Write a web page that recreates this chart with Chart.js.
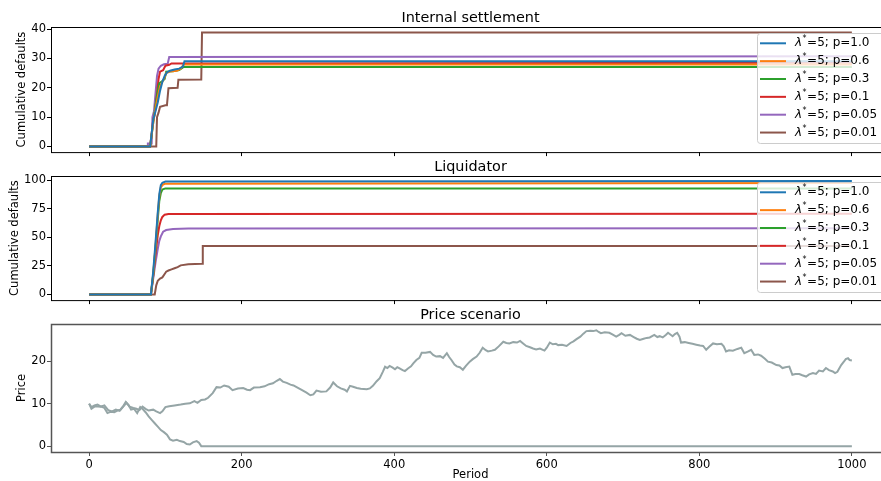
<!DOCTYPE html>
<html>
<head>
<meta charset="utf-8">
<script src="https://cdn.jsdelivr.net/npm/chart.js@4.4.1/dist/chart.umd.min.js"></script>
<style>
  html, body { margin: 0; padding: 0; background: #fff; overflow: hidden; width: 881px; height: 481px; }
  canvas { position: absolute; left: 0; }
</style>
</head>
<body>
<canvas id="settle" width="900" height="160" style="top:0px"></canvas>
<canvas id="liquid" width="900" height="148" style="top:160px"></canvas>
<canvas id="price" width="900" height="173" style="top:308px"></canvas>
<script>
const periodTicks = [0, 200, 400, 600, 800, 1000]
const settleTicks = [0, 10, 20, 30, 40]
const liquidTicks = [0, 25, 50, 75, 100]
const priceTicks = [0, 10, 20]

const legendLabels = ['=5; p=1.0', '=5; p=0.6', '=5; p=0.3', '=5; p=0.1', '=5; p=0.05', '=5; p=0.01']
const lineColors = ['#1f77b4', '#ff7f0e', '#2ca02c', '#d62728', '#9467bd', '#8c564b']
const priceColor = '#95a5a6'

// Internal settlement, [period, cumulative defaults]
const settleP10 = [[0, 0], [80, 0], [84, 9], [87, 12], [90, 15], [93, 19], [96, 22], [99, 24], [102, 25.2], [106, 25.8], [112, 26.2], [118, 26.5], [123, 27.2], [125, 29], [1000, 29]]
const settleP06 = [[0, 0], [80, 0], [84, 8], [87, 13], [90, 17], [93, 20.5], [96, 22], [99, 23.5], [101, 25], [106, 25.5], [115, 25.8], [120, 26.5], [124, 27.9], [1000, 27.9]]
const settleP03 = [[0, 0], [80, 0], [84, 8], [87, 14], [90, 19], [92, 21.5], [96, 22.3], [99, 23], [101, 25.5], [110, 25.6], [118, 26], [124, 27.1], [1000, 27.1]]
const settleP01 = [[0, 0], [80, 0], [84, 9], [86, 11], [89, 18], [91, 23], [93, 25.5], [97, 26], [100, 27.5], [105, 27.8], [108, 28.3], [1000, 28.5]]
const settleP005 = [[0, 0], [76, 0], [77, 1], [82, 1], [83, 10], [85, 12], [87, 18], [89, 24], [91, 26.5], [94, 27.5], [98, 28], [103, 28.2], [105, 30.5], [1000, 30.7]]
const settleP001 = [[0, 0], [88, 0], [89, 10], [91, 11.5], [93, 13.5], [100, 14], [102, 14], [104, 19.8], [116, 20], [117, 22.7], [147, 22.8], [148, 38.8], [1000, 38.8]]

// Liquidator, [period, cumulative defaults]
const liquidP10 = [[0, 0], [81, 0], [84, 20], [87, 45], [90, 72], [92, 88], [94, 96], [96, 98], [100, 99], [1000, 99.5]]
const liquidP06 = [[0, 0], [81, 0], [84, 18], [87, 42], [90, 70], [92, 86], [94, 94], [97, 96.5], [100, 97.2], [1000, 97.8]]
const liquidP03 = [[0, 0], [81, 0], [84, 17], [87, 40], [90, 66], [92, 82], [94, 89], [96, 92], [100, 93], [1000, 93]]
const liquidP01 = [[0, 0], [81, 0], [84, 16], [87, 35], [90, 52], [92, 60], [94, 65], [96, 68], [99, 70], [104, 70.6], [1000, 70.8]]
const liquidP005 = [[0, 0], [81, 0], [84, 14], [87, 28], [90, 40], [92, 47], [94, 51], [97, 55], [101, 56.5], [110, 57.5], [130, 57.8], [1000, 58]]
const liquidP001 = [[0, 0], [86, 0], [88, 8], [90, 12], [93, 14], [96, 15], [99, 18], [101, 20], [104, 21], [108, 22], [112, 23], [116, 24], [120, 25.5], [130, 26.5], [148, 27], [149, 42.4], [1000, 42.4]]

// Price scenario, [period, price]
const priceSurvivor = [
  [0, 10], [3, 8.8], [8, 9.4], [15, 9.3], [20, 9.6], [25, 8.5], [30, 8.2], [35, 8.6], [40, 8.3], [45, 9.4],
  [49, 10.2], [53, 9.3], [58, 9.0], [62, 8.8], [66, 8.5], [70, 9.3], [74, 8.8], [78, 8.4], [84, 8.6], [88, 8.2],
  [93, 7.8], [96, 8.2], [100, 9.2], [105, 9.4], [112, 9.6], [120, 9.8], [126, 10.0], [132, 10.1], [138, 10.6], [142, 10.2],
  [147, 10.9], [152, 11.0], [156, 11.4], [162, 12.5], [167, 13.9], [172, 13.8], [177, 14.3], [183, 14.0], [188, 13.2], [195, 13.6],
  [202, 13.7], [207, 13.3], [211, 13.2], [216, 13.8], [224, 13.9], [230, 14.1], [236, 14.6], [241, 14.8], [246, 15.4], [250, 15.8],
  [254, 15.2], [259, 14.9], [264, 14.5], [268, 14.3], [272, 13.9], [278, 13.3], [285, 12.6], [290, 12.0], [294, 12.2], [298, 13.1],
  [304, 12.8], [311, 12.9], [316, 13.8], [320, 15.0], [325, 14.1], [330, 13.6], [335, 13.3], [338, 12.9], [342, 14.2], [346, 14.0],
  [351, 13.7], [356, 13.5], [364, 13.4], [368, 13.6], [372, 14.2], [377, 15.3], [381, 16.0], [385, 17.5], [388, 18.7], [391, 18.4],
  [394, 18.9], [398, 18.5], [401, 18.1], [404, 18.6], [407, 18.3], [411, 17.9], [414, 17.7], [418, 18.3], [422, 18.8], [425, 19.5],
  [429, 20.3], [433, 20.8], [436, 22.0], [441, 22.0], [447, 22.2], [451, 21.5], [455, 21.1], [460, 21.2], [464, 20.8], [469, 21.9],
  [472, 21.0], [475, 20.3], [479, 19.2], [482, 18.8], [486, 18.6], [490, 18.0], [494, 18.9], [499, 19.9], [503, 20.5], [508, 21.1],
  [512, 22.0], [516, 23.2], [520, 22.6], [523, 22.3], [528, 22.5], [532, 22.7], [537, 23.5], [543, 24.6], [547, 24.3], [551, 24.2],
  [556, 24.5], [561, 24.4], [565, 24.8], [569, 24.2], [573, 23.6], [578, 23.3], [582, 23.0], [586, 22.8], [591, 23.0], [597, 22.5],
  [600, 23.2], [604, 24.4], [608, 24.0], [612, 24.1], [615, 23.8], [620, 23.9], [626, 23.6], [631, 24.3], [635, 24.7], [639, 25.2],
  [644, 25.8], [648, 26.5], [652, 27.1], [657, 27.2], [661, 27.1], [665, 27.3], [668, 26.9], [671, 26.6], [676, 26.8], [682, 26.7],
  [686, 26.3], [691, 25.8], [695, 26.2], [698, 26.6], [703, 26.0], [709, 26.2], [714, 25.7], [718, 25.3], [722, 25.0], [727, 25.3],
  [731, 25.5], [735, 25.6], [741, 26.2], [745, 25.7], [748, 25.9], [752, 25.6], [756, 26.2], [759, 26.7], [762, 26.3], [765, 25.9],
  [768, 26.4], [771, 26.7], [774, 25.8], [776, 24.4], [781, 24.5], [786, 24.3], [791, 24.1], [796, 23.9], [801, 23.7], [805, 23.6],
  [809, 22.7], [813, 23.4], [818, 24.2], [823, 24.0], [829, 24.1], [832, 23.5], [835, 22.3], [839, 22.6], [844, 22.5], [850, 22.9],
  [855, 23.2], [859, 21.9], [864, 22.3], [868, 22.7], [872, 21.5], [877, 21.6], [881, 21.3], [886, 20.6], [890, 19.9], [895, 19.7],
  [901, 19.1], [905, 19.0], [909, 18.4], [913, 18.6], [918, 18.75], [922, 16.8], [926, 17.0], [931, 17.0], [935, 16.7], [940, 16.4],
  [944, 16.9], [949, 17.2], [953, 17.0], [957, 17.8], [962, 17.6], [966, 18.4], [970, 17.9], [975, 17.6], [978, 17.2], [981, 17.5],
  [986, 19.1], [990, 20.0], [992, 20.5], [995, 20.7], [997, 20.3], [1000, 20.2]
]
const priceDefault = [
  [0, 10], [3, 9.2], [7, 9.6], [11, 9.8], [15, 9.4], [20, 9.0], [24, 7.8], [28, 8.1], [33, 8.0], [37, 8.4],
  [41, 8.6], [45, 9.5], [48, 10.4], [52, 9.6], [55, 8.6], [59, 8.8], [63, 7.8], [67, 9.2], [70, 8.8], [74, 8.0],
  [78, 7.0], [82, 6.2], [86, 5.4], [90, 4.6], [94, 3.8], [98, 3.3], [102, 2.7], [106, 1.6], [110, 1.3], [115, 1.5],
  [119, 1.2], [124, 1.0], [128, 0.5], [132, 0.4], [136, 0.9], [141, 1.2], [144, 0.8], [147, 0], [1000, 0]
]

const FONT = "'DejaVu Sans', sans-serif"

function toPoints(pairs) {
  return pairs.map(([x, y]) => ({ x, y }))
}

function drawLegend(ctx, area) {
  const left = 757
  const top = area.top + 6
  ctx.save()
  ctx.beginPath()
  ctx.roundRect(left + 0.5, top + 0.5, 140, 110, 3)
  ctx.fillStyle = 'rgba(255,255,255,0.8)'
  ctx.fill()
  ctx.strokeStyle = '#cccccc'
  ctx.lineWidth = 1
  ctx.stroke()

  legendLabels.forEach((label, i) => {
    const y = area.top + 16.3 + i * 17.85
    ctx.strokeStyle = lineColors[i]
    ctx.lineWidth = 2
    ctx.beginPath()
    ctx.moveTo(760, y)
    ctx.lineTo(786, y)
    ctx.stroke()

    ctx.fillStyle = '#000'
    ctx.textBaseline = 'middle'
    ctx.textAlign = 'left'
    let x = 795
    ctx.font = `italic 12px ${FONT}`
    ctx.fillText('\u03bb', x, y)
    x += ctx.measureText('\u03bb').width + 0.5
    ctx.font = `8px ${FONT}`
    ctx.fillText('*', x, y - 4)
    x += ctx.measureText('*').width + 0.5
    ctx.font = `12px ${FONT}`
    ctx.fillText(label, x, y)
  })
  ctx.restore()
}

// frame, axes title and (optional) legend on top of the plotted lines
const axesDecor = {
  id: 'axesDecor',
  afterDatasetsDraw(chart, args, opts) {
    const { ctx, chartArea: a } = chart
    ctx.save()
    ctx.strokeStyle = opts.frameColor
    ctx.lineWidth = opts.frameWidth
    ctx.strokeRect(a.left + 0.5, a.top + 0.5, a.right - a.left, a.bottom - a.top)

    ctx.fillStyle = '#000'
    ctx.font = `14.4px ${FONT}`
    ctx.textAlign = 'center'
    ctx.textBaseline = 'middle'
    ctx.fillText(opts.title, (a.left + a.right) / 2, a.top - 9)
    ctx.restore()

    if (opts.legend) drawLegend(ctx, a)
  },
}

function makeChart(id, cfg) {
  const datasets = cfg.series.map((pairs, i) => ({
    data: toPoints(pairs),
    borderColor: cfg.colors[i],
    borderWidth: 2,
    pointRadius: 0,
    tension: 0,
    fill: false,
  }))

  return new Chart(document.getElementById(id), {
    type: 'line',
    data: { datasets },
    plugins: [axesDecor],
    options: {
      responsive: false,
      devicePixelRatio: 1,
      animation: false,
      events: [],
      layout: { padding: { top: cfg.top, right: 10, left: 0, bottom: 0 } },
      plugins: {
        legend: { display: false },
        tooltip: { enabled: false },
        axesDecor: { title: cfg.title, legend: cfg.legend, frameColor: cfg.frameColor, frameWidth: cfg.frameWidth },
      },
      scales: {
        x: {
          type: 'linear',
          min: -50,
          max: 1050,
          afterBuildTicks: (scale) => { scale.ticks = periodTicks.map((value) => ({ value })) },
          afterFit: (scale) => { scale.height = cfg.xHeight },
          border: { display: false },
          grid: { drawOnChartArea: false, color: cfg.frameColor, tickLength: 4, tickWidth: 1 },
          ticks: { display: cfg.xLabels, color: '#000', padding: 2, maxRotation: 0, font: { family: FONT, size: 11.5 }, callback: (v) => String(v) },
          title: { display: cfg.xLabels, text: 'Period', color: '#000', padding: 0, font: { family: FONT, size: 11.5, lineHeight: 1 } },
        },
        y: {
          type: 'linear',
          min: cfg.yMin,
          max: cfg.yMax,
          afterBuildTicks: (scale) => { scale.ticks = cfg.yTicks.map((value) => ({ value })) },
          afterFit: (scale) => { scale.width = 51 },
          border: { display: false },
          grid: { drawOnChartArea: false, color: cfg.frameColor, tickLength: 4, tickWidth: 1 },
          ticks: { color: '#000', padding: 1, font: { family: FONT, size: 11.5 }, callback: (v) => String(v) },
          title: { display: true, text: cfg.yTitle, color: '#000', padding: { top: cfg.yTitlePad, bottom: 0 }, font: { family: FONT, size: 11.5 } },
        },
      },
    },
  })
}

makeChart('settle', {
  title: 'Internal settlement',
  series: [settleP10, settleP06, settleP03, settleP01, settleP005, settleP001],
  colors: lineColors,
  legend: true,
  top: 27,
  xHeight: 4,
  xLabels: false,
  yMin: -1.94,
  yMax: 40.7,
  yTicks: settleTicks,
  yTitle: 'Cumulative defaults',
  yTitlePad: 14.8,
  frameColor: '#000',
  frameWidth: 1,
})

makeChart('liquid', {
  title: 'Liquidator',
  series: [liquidP10, liquidP06, liquidP03, liquidP01, liquidP005, liquidP001],
  colors: lineColors,
  legend: true,
  top: 16,
  xHeight: 4,
  xLabels: false,
  yMin: -4.95,
  yMax: 103.9,
  yTicks: liquidTicks,
  yTitle: 'Cumulative defaults',
  yTitlePad: 8.1,
  frameColor: '#000',
  frameWidth: 1,
})

makeChart('price', {
  title: 'Price scenario',
  series: [priceSurvivor, priceDefault],
  colors: [priceColor, priceColor],
  legend: false,
  top: 16,
  xHeight: 29,
  xLabels: true,
  yMin: -1.37,
  yMax: 28.77,
  yTicks: priceTicks,
  yTitle: 'Price',
  yTitlePad: 14.8,
  frameColor: '#555',
  frameWidth: 1.5,
})
</script>
</body>
</html>
